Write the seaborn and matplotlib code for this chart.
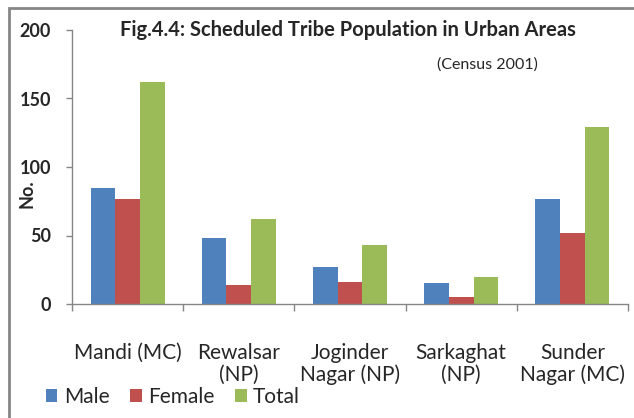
import matplotlib
matplotlib.use('Agg')
import matplotlib.pyplot as plt
from matplotlib.patches import Patch, Rectangle
import pandas as pd
import seaborn as sns

# Data
towns = ['Mandi (MC)', 'Rewalsar\n(NP)', 'Joginder\nNagar (NP)',
         'Sarkaghat\n(NP)', 'Sunder\nNagar (MC)']
male = [85, 48, 27, 15, 77]
female = [77, 14, 16, 5, 52]
total = [162, 62, 43, 20, 129]
series = ['Male', 'Female', 'Total']
colors = ['#4F81BD', '#C0504D', '#9BBB59']

df = pd.DataFrame({
    'town': towns * 3,
    'series': [s for s in series for _ in towns],
    'value': male + female + total,
})

sns.set_style('white')
plt.rcParams['font.family'] = ['Lato', 'DejaVu Sans']

W, H = 634, 418
fig = plt.figure(figsize=(W / 100, H / 100), dpi=100)
ax = fig.add_axes([72 / W, 1 - 304 / H, 556 / W, 274 / H])

sns.barplot(data=df, x='town', y='value', hue='series', hue_order=series,
            palette=colors, saturation=1, width=0.667, gap=0,
            linewidth=0, legend=False, ax=ax)

axis_gray = '#868686'
ax.set_xlim(-0.5, 4.5)
ax.set_ylim(0, 200)
ax.set_yticks(range(0, 201, 50))
ax.set_xlabel('')
ax.set_ylabel('')
for side in ['top', 'right']:
    ax.spines[side].set_visible(False)
for side in ['left', 'bottom']:
    ax.spines[side].set_color(axis_gray)
    ax.spines[side].set_linewidth(1)

ax.tick_params(axis='y', direction='out', length=4, width=1, color=axis_gray,
               pad=11, labelsize=13, left=True)
for lbl in ax.get_yticklabels():
    lbl.set_fontweight('bold')

# category separators below the x axis
ax.set_xticks([i - 0.5 for i in range(6)], minor=True)
ax.tick_params(axis='x', which='minor', direction='out', length=5, width=1,
               color=axis_gray, bottom=True)
ax.tick_params(axis='x', which='major', length=0, pad=28, labelsize=15)
for lbl in ax.get_xticklabels():
    lbl.set_linespacing(1.1)

fig.text(27 / W, 1 - 194 / H, 'No.', rotation=90, ha='center', va='center',
         fontsize=13, fontweight='bold')
fig.text(348 / W, 1 - 30 / H, 'Fig.4.4: Scheduled Tribe Population in Urban Areas',
         ha='center', va='center', fontsize=14.5, fontweight='bold')
fig.text(487 / W, 1 - 65 / H, '(Census 2001)', ha='center', va='center',
         fontsize=11.5)

handles = [Patch(facecolor=c, edgecolor='none') for c in colors]
ax.legend(handles, series, loc='center left', bbox_to_anchor=(46 / W, 1 - 397 / H),
          bbox_transform=fig.transFigure, ncol=3, frameon=False, fontsize=15,
          handlelength=0.55, handleheight=0.55, handletextpad=0.3,
          columnspacing=1.0, borderpad=0, borderaxespad=0)

# outer chart frame (runs off the right and bottom edges)
fig.patches.append(Rectangle((9 / W, -0.05), 1.1, 1 - 8 / H + 0.05,
                             transform=fig.transFigure, fill=False,
                             edgecolor=axis_gray, linewidth=2))

fig.savefig('out.png', dpi=100)
